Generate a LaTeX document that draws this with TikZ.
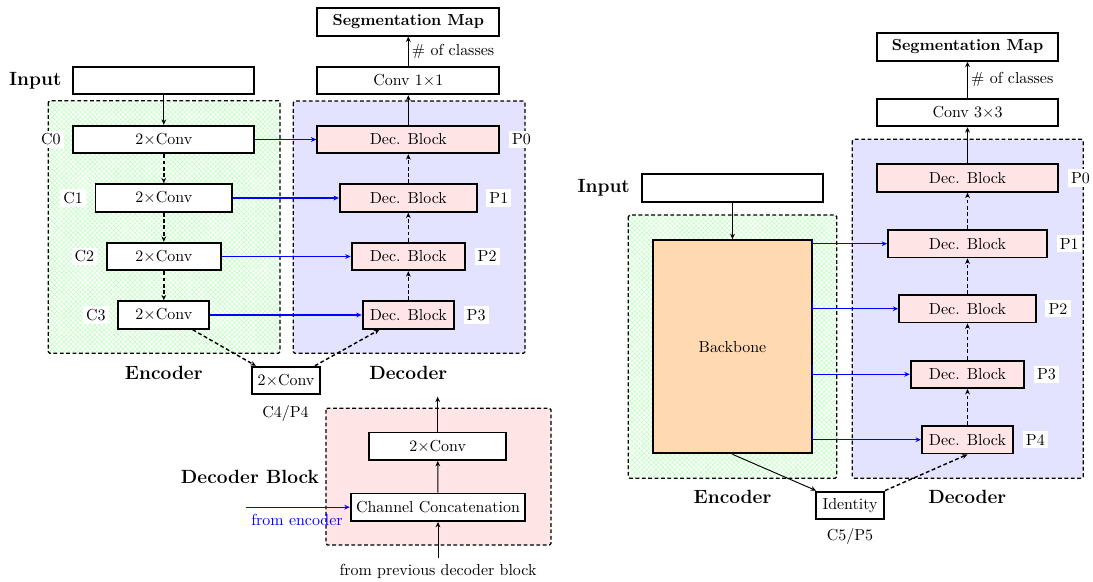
\documentclass[tikz,border=0pt]{standalone}
\usetikzlibrary{patterns.meta,arrows.meta,calc}
\begin{document}
\begin{tikzpicture}[x=0.627pt,y=-0.627pt,
  box/.style={draw, very thick, fill=white, inner sep=0pt, minimum height=27.5*0.627pt},
  bw/.style={minimum width=#1*0.627pt},
  dec/.style={box, fill=red!10},
  lab/.style={fill=white, inner sep=2pt},
  title/.style={font=\large\bfseries},
  region/.style={draw, thick, dash pattern=on 2.4pt off 1.6pt, rounded corners=1pt},
  enc/.style={region, pattern={Hatch[angle=45,distance=2.1pt,line width=0.3pt]}, pattern color=green!28},
  decr/.style={region, fill=blue!11},
  arr/.style={-{Stealth[length=3.4pt,width=3pt]}, semithick},
  darr/.style={arr, line width=0.9pt, dash pattern=on 2.4pt off 1.6pt},
  barr/.style={arr, thick, blue},
]
\useasboundingbox (0,0) rectangle (1093,581);

% ---------------- U-Net style network ----------------
\draw[enc]  (48.3,100.7) rectangle (280,353.3);
\draw[decr] (293.3,101) rectangle (525,353.3);

\node[box, bw=182, font=\bfseries] (segA)  at (408.3,21.8) {Segmentation Map};
\node[box, bw=182]        (convA) at (408.3,80.5) {Conv $1{\times}1$};
\node[box, bw=181]        (inA)   at (163.8,80.5) {};
\node[title] (inAlab) at (35.3,80.5) {Input};

\node[box, bw=181]   (c0) at (163.8,139.5) {2$\times$Conv};
\node[box, bw=136.6] (c1) at (163.8,198)   {2$\times$Conv};
\node[box, bw=113.7] (c2) at (163.8,256.5) {2$\times$Conv};
\node[box, bw=91]    (c3) at (163.8,315)   {2$\times$Conv};
\node[box, bw=68]    (c4) at (286,380.5)   {2$\times$Conv};

\node[dec, bw=182]   (d0) at (408.3,139.5) {Dec. Block};
\node[dec, bw=136.7] (d1) at (408.3,198)   {Dec. Block};
\node[dec, bw=113.3] (d2) at (408.3,256.5) {Dec. Block};
\node[dec, bw=91.3]  (d3) at (408.3,315)   {Dec. Block};

\foreach \n/\t in {c0/C0,c1/C1,c2/C2,c3/C3}
  \node[lab, anchor=east] (\n lab) at ([xshift=-5.2pt]\n.west) {\t};
\foreach \n/\t in {d0/P0,d1/P1,d2/P2,d3/P3}
  \node[lab, anchor=west] (\n lab) at ([xshift=5.2pt]\n.east) {\t};

\node (c4lab) at (285.5,413) {C4/P4};
\node[title] (encA) at (163.8,372.5) {Encoder};
\node[title] (decA) at (408.3,372.5) {Decoder};

\draw[arr] (inA) -- (c0);
\draw[darr] (c0) -- (c1);
\draw[darr] (c1) -- (c2);
\draw[darr] (c2) -- (c3);
\draw[darr] (c3.-27) -- (c4.154);
\draw[darr] (c4.27) -- (d3.207);
\draw[darr] (d3) -- (d2);
\draw[darr] (d2) -- (d1);
\draw[darr] (d1) -- (d0);
\draw[arr] (d0) -- (convA);
\draw[arr] (convA) -- node[right, inner sep=2pt] (clsA) {\# of classes} (segA);
\foreach \i in {0,1,2,3}
  \draw[barr] (c\i) -- (d\i);

% ---------------- decoder block detail ----------------
\draw[region, fill=red!10] (326,408.3) rectangle (551,545);
\node[box, bw=136.7] (dbconv) at (437.7,446.2) {2$\times$Conv};
\node[box, bw=174.6] (dbcat)  at (438,507.2)   {Channel Concatenation};
\node[title] (dblab) at (250,477.3) {Decoder Block};
\coordinate (dbout) at (437.7,396.7);
\coordinate (dbprev) at (438,558);
\coordinate (dbenc) at (246,507.2);
\node (prevlab) at (438,571) {from previous decoder block};
\node[text=blue] (enclab) at (297,520) {from encoder};
\draw[arr] (dbconv) -- (dbout);
\draw[arr] (dbcat) -- (dbconv);
\draw[arr] (dbprev) -- (dbcat);
\draw[barr] (dbenc) -- (dbcat);

% ---------------- backbone based network ----------------
\draw[enc]  (628.3,215) rectangle (836.7,478.3);
\draw[decr] (852.3,139.3) rectangle (1083.3,478.3);

\node[box, bw=181.6, font=\bfseries] (segB)  at (967.5,47)    {Segmentation Map};
\node[box, bw=181.6]        (convB) at (967.5,112.5) {Conv $3{\times}3$};
\node[box, bw=181.6]        (inB)   at (732.5,188)   {};
\node[title] (inBlab) at (603.7,187.5) {Input};

\node[box, fill=orange!30, minimum width=159.6*0.627pt, minimum height=213.3*0.627pt] (bb) at (732.5,346.7) {Backbone};
\node[box, bw=68] (idn) at (850,505.3) {Identity};
\node (idnlab) at (850,536.7) {C5/P5};

\node[dec, bw=181.6] (e0) at (967.5,178)   {Dec. Block};
\node[dec, bw=159]   (e1) at (967.5,243.7) {Dec. Block};
\node[dec, bw=136.7] (e2) at (967.5,308.7) {Dec. Block};
\node[dec, bw=113.6] (e3) at (967.5,374.3) {Dec. Block};
\node[dec, bw=91.3]  (e4) at (967.5,439.7) {Dec. Block};
\foreach \n/\t in {e0/P0,e1/P1,e2/P2,e3/P3,e4/P4}
  \node[lab, anchor=west] (\n lab) at ([xshift=5.2pt]\n.east) {\t};

\node[title] (encB) at (732.5,497.3) {Encoder};
\node[title] (decB) at (967.3,497.3) {Decoder};

\coordinate (t1) at (812.3,240);
\coordinate (t2) at (812.3,301.7);
\coordinate (t3) at (812.3,365);
\coordinate (t4) at (812.3,428.3);

\draw[arr] (inB) -- (bb);
\draw[arr] (bb.south) -- (idn);
\draw[darr] (idn.north east) -- (e4.south);
\draw[darr] (e4) -- (e3);
\draw[darr] (e3) -- (e2);
\draw[darr] (e2) -- (e1);
\draw[darr] (e1) -- (e0);
\draw[arr] (e0) -- (convB);
\draw[arr] (convB) -- node[right, inner sep=2pt] (clsB) {\# of classes} (segB);
\foreach \i in {1,2,3,4}
  \draw[barr] (t\i) |- (e\i.west);
\end{tikzpicture}
\end{document}
